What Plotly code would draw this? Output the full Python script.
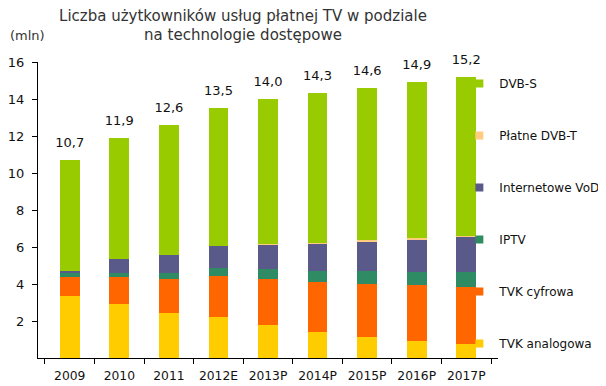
import plotly.graph_objects as go

categories = ["2009", "2010", "2011", "2012E", "2013P", "2014P", "2015P", "2016P", "2017P"]
tvk_analogowa = [3.35, 2.92, 2.45, 2.23, 1.78, 1.41, 1.15, 0.94, 0.76]
tvk_cyfrowa = [1.05, 1.47, 1.84, 2.22, 2.51, 2.72, 2.87, 2.98, 3.08]
iptv = [0.18, 0.18, 0.28, 0.40, 0.50, 0.57, 0.68, 0.73, 0.79]
internetowe_vod = [0.15, 0.80, 1.00, 1.20, 1.35, 1.48, 1.62, 1.78, 1.93]
platne_dvbt = [0.0, 0.0, 0.0, 0.0, 0.02, 0.03, 0.04, 0.05, 0.06]
dvbs = [5.97, 6.53, 7.03, 7.45, 7.84, 8.09, 8.24, 8.42, 8.58]
totals = [10.7, 11.9, 12.6, 13.5, 14.0, 14.3, 14.6, 14.9, 15.2]
total_labels = ["10,7", "11,9", "12,6", "13,5", "14,0", "14,3", "14,6", "14,9", "15,2"]
y_ticks = [2, 4, 6, 8, 10, 12, 14, 16]

series = [
    ("TVK analogowa", tvk_analogowa, "#FFCC00"),
    ("TVK cyfrowa", tvk_cyfrowa, "#FF6600"),
    ("IPTV", iptv, "#2E8B63"),
    ("Internetowe VoD", internetowe_vod, "#5A5A8A"),
    ("Płatne DVB-T", platne_dvbt, "#FFCC80"),
    ("DVB-S", dvbs, "#99CC00"),
]

font = "DejaVu Sans, Verdana, sans-serif"
fig = go.Figure()
n = len(series)
for i, (name, vals, col) in enumerate(series):
    fig.add_trace(go.Bar(x=categories, y=vals, name=name, marker_color=col,
                         marker_line_width=0, legendgroup=name, showlegend=False))
    # legend entry with a small square swatch, as in the reference
    fig.add_trace(go.Scatter(x=[None], y=[None], mode="markers", name=name,
                             marker=dict(symbol="square", size=8, color=col),
                             legendgroup=name, legendrank=n - i, hoverinfo="skip"))

# total labels above the stacks (invisible marker pushes the text up)
fig.add_trace(go.Scatter(x=categories, y=totals, text=total_labels, mode="markers+text",
                         marker=dict(size=14, color="rgba(0,0,0,0)"),
                         textposition="top center", showlegend=False,
                         textfont=dict(size=13, color="#111111", family=font),
                         cliponaxis=False, hoverinfo="skip"))

W, H = 598, 378  # page body offset of 8px is compensated
fig.update_layout(
    width=W, height=H,
    barmode="stack", bargap=0.6,
    plot_bgcolor="white", paper_bgcolor="white",
    margin=dict(l=30, r=108, t=54, b=28, autoexpand=False),
    font=dict(family=font, size=12, color="#111111"),
    title=dict(text="Liczba użytkowników usług płatnej TV w podziale<br>na technologie dostępowe",
               x=235 / W, xanchor="center", y=1 - 12.5 / H, yanchor="middle",
               font=dict(size=15, color="#333333", family=font)),
    legend=dict(x=0.916, xanchor="left", y=0.976, yanchor="top",
                traceorder="grouped", tracegroupgap=33, maxheight=1,
                font=dict(size=12, family=font), itemwidth=30,
                bgcolor="rgba(0,0,0,0)"),
    annotations=[dict(text="(mln)", xref="paper", yref="paper", x=-0.065, y=1.056,
                      xanchor="left", yanchor="bottom", showarrow=False,
                      font=dict(size=13, color="#333333", family=font))],
)
fig.update_yaxes(range=[0, 16], tickvals=y_ticks, showgrid=False, showline=True,
                 linecolor="black", linewidth=1, ticks="outside", ticklen=5,
                 tickcolor="black", zeroline=False, automargin=False,
                 tickfont=dict(size=13), ticklabelstandoff=5)
fig.update_xaxes(type="category", categoryorder="array", categoryarray=categories,
                 showgrid=False, showline=True, linecolor="black", linewidth=1,
                 ticks="outside", tickson="boundaries", ticklen=5, tickcolor="black",
                 tickangle=0, automargin=False, tickfont=dict(size=12.3),
                 ticklabelstandoff=6)

fig.write_html("out.html")
